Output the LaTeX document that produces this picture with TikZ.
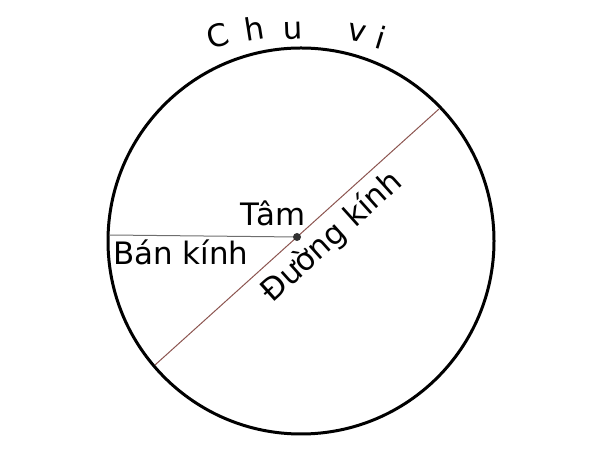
\documentclass[tikz,border=0pt]{standalone}
\usepackage{fontspec}
\setmainfont{DejaVu Sans}
\definecolor{diamcol}{RGB}{140,85,80}
\definecolor{dotcol}{RGB}{50,50,50}
\definecolor{radcol}{RGB}{110,110,110}
\tikzset{labeltext/.style={font=\fontsize{31}{37}\selectfont, inner sep=0pt},
         centredot/.style={circle, fill=dotcol, inner sep=0pt, minimum size=8bp}}
\begin{document}
\begin{tikzpicture}[x=1bp,y=1bp]
  \useasboundingbox (0,0) rectangle (600,450);
  \coordinate (centre) at (301,209); % circle
  \coordinate (tam) at (297,213);
  \coordinate (banL) at (109,215);
  \coordinate (duongA) at (155,85);
  \coordinate (duongB) at (439,341);
  \draw[line width=3bp] (centre) circle (193);
  \draw[radcol, line width=1bp] (banL) -- (tam);
  \draw[diamcol, line width=1bp] (duongA) -- (duongB);
  \node[centredot] (tamdot) at (tam) {};
  \node[labeltext, anchor=base] (tamlbl) at (273,224) {Tâm};
  \node[labeltext, anchor=base] (banlbl) at (181,185) {Bán kính};
  \node[labeltext, anchor=base, rotate=42] (duonglbl) at (338,206) {Đường kính};
  % chu vi, letter by letter
  \foreach \ch/\x/\y/\a in {C/218/414/16, h/254/422/9, u/293/419/2, v/357/417/-11, i/381/412/-17}
    \node[labeltext, rotate=\a] (chuvi-\ch) at (\x,\y) {\ch};
\end{tikzpicture}
\end{document}
